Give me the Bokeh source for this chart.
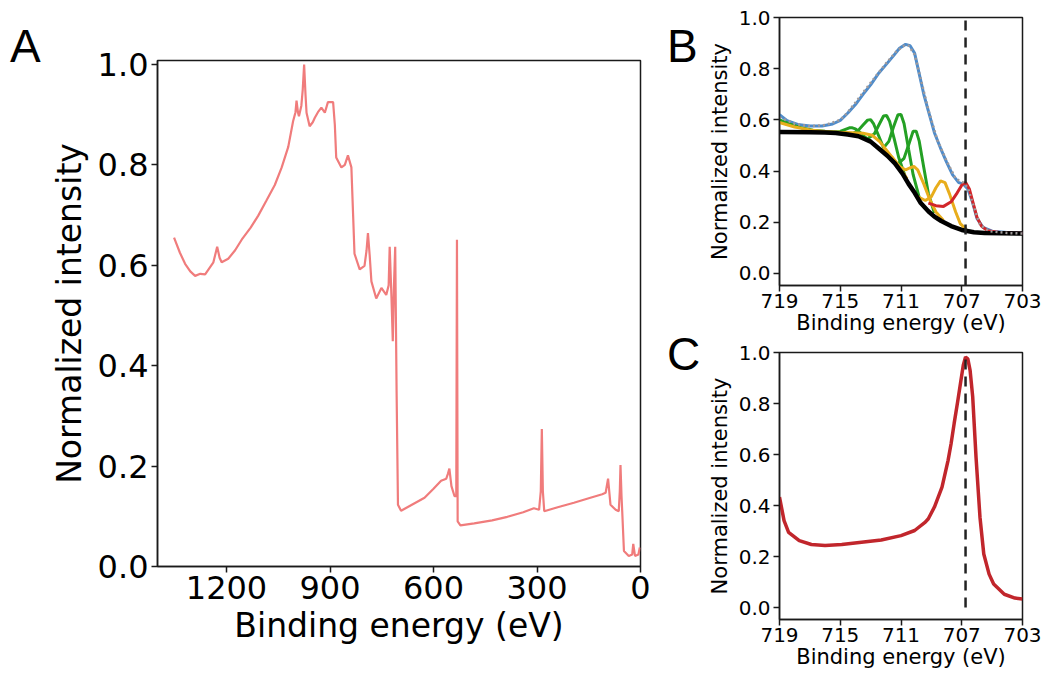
from bokeh.plotting import figure
from bokeh.layouts import row, column
from bokeh.models import Range1d, FixedTicker, PrintfTickFormatter, Div
from bokeh.embed import file_html
from bokeh.resources import INLINE

FONT = "DejaVu Sans"

# ---- panel A : survey spectrum ----
survey_be = [1352, 1335, 1320, 1305, 1291, 1276, 1262, 1248, 1238, 1227, 1220, 1214,
             1195, 1175, 1156, 1130, 1108, 1085, 1060, 1040, 1021, 1007, 1000, 997,
             993, 990, 983, 979, 975, 971, 968, 959, 950, 944, 935, 925, 915, 906,
             891, 886, 882, 867, 857, 848, 838, 833, 829, 814, 800, 794, 790, 785,
             780, 766, 751, 737, 730, 727, 722, 718, 715, 711, 707, 703, 694, 660,
             626, 600, 578, 563, 558, 554, 548, 539, 534, 532, 530, 522, 482, 430,
             386, 340, 309, 294, 289, 286, 283, 279, 240, 193, 150, 111, 101, 94,
             87, 72, 63, 60, 58, 55, 53, 48, 34, 24, 21, 16, 6, 2]
survey_int = [0.655, 0.625, 0.603, 0.588, 0.579, 0.583, 0.582, 0.596, 0.606, 0.637, 0.615, 0.606,
              0.613, 0.630, 0.651, 0.675, 0.699, 0.728, 0.760, 0.795, 0.836, 0.887, 0.905, 0.928,
              0.905, 0.897, 0.918, 0.950, 1.000, 0.940, 0.904, 0.877, 0.885, 0.894, 0.905, 0.914, 0.904, 0.925,
              0.925, 0.880, 0.815, 0.795, 0.800, 0.819, 0.795, 0.700, 0.623, 0.592, 0.599, 0.630, 0.664, 0.620,
              0.568, 0.534, 0.555, 0.541, 0.560, 0.637, 0.540, 0.449, 0.550, 0.637, 0.350, 0.123, 0.111, 0.124,
              0.137, 0.155, 0.171, 0.175, 0.185, 0.195, 0.160, 0.140, 0.140, 0.651, 0.090, 0.082, 0.086, 0.092,
              0.099, 0.108, 0.116, 0.113, 0.150, 0.274, 0.150, 0.110, 0.118, 0.127, 0.136, 0.144, 0.147, 0.175,
              0.123, 0.113, 0.110, 0.150, 0.202, 0.140, 0.110, 0.031, 0.021, 0.024, 0.045, 0.021, 0.024, 0.038]

# ---- panel B : Fe 2p3/2 fit ----
data_be = [719.0, 718.5, 717.8, 717.0, 716.2, 715.5, 715.0, 714.5, 714.0, 713.5, 713.0, 712.5,
           712.0, 711.5, 711.1, 710.7, 710.4, 710.1, 709.8, 709.5, 709.2, 708.8, 708.4, 708.0,
           707.6, 707.2, 706.9, 706.6, 706.3, 706.0, 705.6, 705.0, 704.0, 703.0]
data_int = [0.620, 0.597, 0.582, 0.576, 0.576, 0.584, 0.598, 0.627, 0.660, 0.700, 0.737, 0.780,
            0.815, 0.850, 0.880, 0.895, 0.890, 0.860, 0.780, 0.700, 0.635, 0.550, 0.490, 0.435,
            0.385, 0.355, 0.350, 0.330, 0.280, 0.215, 0.180, 0.165, 0.160, 0.157]

fit_be = [719.0, 718.0, 717.0, 716.0, 715.0, 714.5, 714.0, 713.0, 712.0, 711.3, 710.8, 710.5,
          710.1, 709.7, 709.2, 708.6, 708.0, 707.4, 706.9, 706.6, 706.2, 705.8, 705.2, 704.0, 703.0]
fit_int = [0.610, 0.585, 0.575, 0.580, 0.600, 0.630, 0.668, 0.745, 0.820, 0.868, 0.890, 0.890,
           0.855, 0.760, 0.640, 0.520, 0.440, 0.370, 0.355, 0.335, 0.260, 0.190, 0.165, 0.158, 0.156]

bg_be = [719.0, 717.0, 716.0, 715.3, 714.5, 713.8, 713.0, 712.5, 711.9, 711.4, 710.9,
         710.5, 710.1, 709.7, 709.2, 708.8, 708.35, 707.7, 707.0, 706.2, 705.5, 703.0]
bg_int = [0.553, 0.552, 0.551, 0.549, 0.543, 0.536, 0.515, 0.490, 0.460, 0.430, 0.390,
          0.350, 0.315, 0.275, 0.243, 0.222, 0.205, 0.185, 0.170, 0.161, 0.158, 0.156]

green_be = [
    [719.0, 718.3, 717.5, 716.8, 716.0, 715.3, 714.6],
    [715.4, 715.0, 714.7, 714.4, 714.2, 714.0, 713.7, 713.4, 713.0],
    [714.2, 713.8, 713.5, 713.2, 713.0, 712.8, 712.5, 712.2, 711.8],
    [713.15, 712.75, 712.45, 712.15, 711.95, 711.75, 711.45, 711.15, 710.75],
    [712.2, 711.8, 711.5, 711.2, 711.0, 710.8, 710.5, 710.2, 709.8],
    [711.2, 710.8, 710.5, 710.2, 710.0, 709.8, 709.5, 709.2, 708.8],
]
green_int = [
    [0.600, 0.583, 0.568, 0.560, 0.556, 0.553, 0.548],
    [0.552, 0.555, 0.562, 0.569, 0.569, 0.565, 0.551, 0.534, 0.517],
    [0.545, 0.560, 0.580, 0.599, 0.601, 0.584, 0.542, 0.499, 0.459],
    [0.528, 0.546, 0.581, 0.615, 0.617, 0.594, 0.527, 0.453, 0.384],
    [0.487, 0.516, 0.571, 0.620, 0.621, 0.586, 0.485, 0.386, 0.297],
    [0.428, 0.450, 0.502, 0.556, 0.556, 0.517, 0.414, 0.313, 0.236],
]

gold_be = [
    [719.0, 718.0, 717.0, 716.0, 715.0, 714.2, 713.5, 712.9, 712.4, 711.8, 711.2, 710.6],
    [712.2, 711.6, 711.1, 710.7, 710.4, 710.15, 709.9, 709.5, 709.1, 708.7, 708.2],
    [709.9, 709.4, 709.0, 708.7, 708.4, 708.1, 707.8, 707.4, 707.1, 706.7],
]
gold_int = [
    [0.590, 0.572, 0.561, 0.555, 0.552, 0.550, 0.548, 0.540, 0.515, 0.470, 0.425, 0.370],
    [0.490, 0.455, 0.418, 0.405, 0.413, 0.418, 0.405, 0.350, 0.288, 0.240, 0.207],
    [0.300, 0.285, 0.300, 0.335, 0.362, 0.355, 0.310, 0.240, 0.195, 0.172],
]

metal_be = [709.2, 708.7, 708.2, 707.7, 707.3, 707.0, 706.75, 706.5, 706.25, 706.0, 705.7,
            705.3, 704.5, 703.0]
metal_int = [0.275, 0.265, 0.262, 0.280, 0.315, 0.345, 0.356, 0.330, 0.275, 0.220, 0.185,
             0.167, 0.160, 0.157]

# ---- panel C : reference spectrum ----
ref_be = [719.0, 718.7, 718.4, 717.7, 716.9, 716.0, 714.9, 713.6, 712.3, 711.0, 710.1, 709.4,
          709.2, 708.8, 708.3, 707.9, 707.7, 707.5, 707.27, 707.05, 706.9, 706.75, 706.6,
          706.45, 706.28, 706.06, 705.8, 705.55, 705.2, 704.9, 704.2, 703.5, 703.0]
ref_int = [0.433, 0.341, 0.295, 0.262, 0.247, 0.243, 0.247, 0.256, 0.265, 0.282, 0.302, 0.335,
           0.348, 0.394, 0.472, 0.577, 0.643, 0.722, 0.807, 0.892, 0.950, 0.982, 0.975,
           0.930, 0.827, 0.590, 0.354, 0.210, 0.131, 0.092, 0.052, 0.037, 0.033]

marker_be = 706.75
survey_ticks = [1200, 900, 600, 300, 0]
fe_ticks = [719, 715, 711, 707, 703]
int_ticks = [0.0, 0.2, 0.4, 0.6, 0.8, 1.0]


def style(p, tick_size, label_size):
    p.grid.grid_line_color = None
    p.outline_line_color = "#1a1a1a"
    p.outline_line_width = 1.5
    p.outline_line_alpha = 1
    for ax in (p.xaxis[0], p.yaxis[0]):
        ax.axis_line_color = "#1a1a1a"
        ax.axis_line_width = 1.5
        ax.major_tick_line_color = "#1a1a1a"
        ax.major_tick_line_width = 1.5
        ax.major_tick_out = 6
        ax.major_tick_in = 0
        ax.minor_tick_line_color = None
        ax.major_label_text_font = FONT
        ax.major_label_text_font_size = tick_size
        ax.major_label_text_color = "black"
        ax.major_label_standoff = 3
        ax.axis_label_text_font = FONT
        ax.axis_label_text_font_size = label_size
        ax.axis_label_text_font_style = "normal"
        ax.axis_label_text_color = "black"
        ax.axis_label_standoff = 4
    p.yaxis[0].formatter = PrintfTickFormatter(format="%.1f")
    p.yaxis[0].ticker = FixedTicker(ticks=int_ticks)


def letters(w, h, items):
    # panel letters placed with absolute offsets (left, top) inside a plain box
    spans = "".join(
        '<span style="position:absolute;left:%dpx;top:%dpx;">%s</span>' % (x, y, t)
        for t, x, y in items)
    html = ('<div style="position:relative;width:%dpx;height:%dpx;'
            'font-family:\'Liberation Sans\';font-size:46px;line-height:46px;color:black;">%s</div>'
            % (w, h, spans))
    return Div(text=html, width=w, height=h, margin=0)


# panel A
la = letters(46, 673, [("A", 10, 23)])
pa = figure(width=614, height=673, output_backend="svg", toolbar_location=None,
            x_range=Range1d(1400, 0), y_range=Range1d(0, 1.008),
            min_border_left=109, min_border_right=20, min_border_top=60, min_border_bottom=107,
            x_axis_label="Binding energy (eV)", y_axis_label="Normalized intensity")
pa.line(survey_be, survey_int, line_color="#f07c7c", line_width=2.2)
style(pa, "32px", "33px")
pa.xaxis[0].ticker = FixedTicker(ticks=survey_ticks)
pa.yaxis[0].axis_label_standoff = 6

# panel B
pb = figure(width=341, height=340, output_backend="svg", toolbar_location=None,
            x_range=Range1d(719, 703), y_range=Range1d(-0.047, 1.0),
            min_border_left=73, min_border_right=23, min_border_top=17, min_border_bottom=55,
            x_axis_label="Binding energy (eV)", y_axis_label="Normalized intensity")
pb.line(data_be, data_int, line_color="#4f8ccb", line_width=3)
for e, v in zip(green_be, green_int):
    pb.line(e, v, line_color="#24a024", line_width=3)
for e, v in zip(gold_be, gold_int):
    pb.line(e, v, line_color="#e8ad1c", line_width=3)
pb.line(metal_be, metal_int, line_color="#d2262a", line_width=3)
pb.line(bg_be, bg_int, line_color="black", line_width=4.5)
pb.line(fit_be, fit_int, line_color="#a09a9a", line_width=2.5, line_dash="2 3")
pb.line([marker_be, marker_be], [-0.047, 1.0], line_color="#222222", line_width=2.5,
        line_dash="10 7")
style(pb, "20px", "21px")
pb.xaxis[0].ticker = FixedTicker(ticks=fe_ticks)
pb.xaxis[0].major_label_standoff = 2
pb.xaxis[0].axis_label_standoff = 0

# panel C
pc = figure(width=341, height=333, output_backend="svg", toolbar_location=None,
            x_range=Range1d(719, 703), y_range=Range1d(-0.047, 1.0),
            min_border_left=73, min_border_right=23, min_border_top=12, min_border_bottom=54,
            x_axis_label="Binding energy (eV)", y_axis_label="Normalized intensity")
pc.line(ref_be, ref_int, line_color="#c1262c", line_width=3.5)
pc.line([marker_be, marker_be], [0.0, 1.0], line_color="#222222", line_width=2.5,
        line_dash="10 7")
style(pc, "20px", "21px")
pc.xaxis[0].ticker = FixedTicker(ticks=fe_ticks)
pc.xaxis[0].major_label_standoff = 2
pc.xaxis[0].axis_label_standoff = 0

lbc = letters(44, 673, [("B", 7, 23), ("C", 7, 331)])
layout = row(la, pa, lbc, column(pb, pc))
open("out.html", "w").write(file_html(layout, INLINE))
